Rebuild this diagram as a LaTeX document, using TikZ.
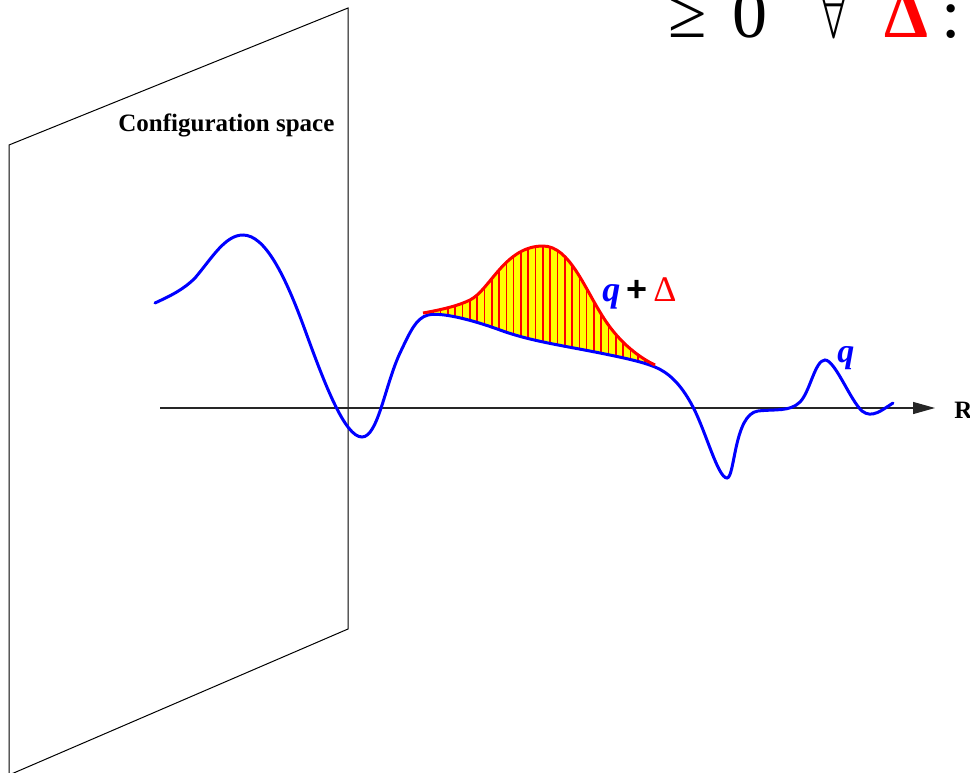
\documentclass[tikz,border=0pt]{standalone}
\usepackage{fontspec}
\usepackage{graphicx}
\setmainfont{Liberation Serif}
\newfontfamily\plusfont{Liberation Sans}
\usetikzlibrary{arrows.meta}
\definecolor{qblue}{HTML}{0000FF}
\definecolor{pert}{HTML}{FF0000}
\definecolor{bump}{HTML}{FFFF00}

\begin{document}
\begin{tikzpicture}[x=.5pt, y=-.5pt,
  plane/.style={draw=black, line width=.5pt, line join=miter},
  axis/.style={draw=black!85, line width=.6pt, -{Triangle[length=11pt, width=6pt]}},
  qcurve/.style={draw=qblue, line width=1.5pt, line cap=round},
  pcurve/.style={draw=pert, line width=1.5pt},
  hatch/.style={draw=pert, line width=.8pt},
  label/.style={inner sep=0pt, anchor=base west},
  bigtext/.style={label, font=\fontsize{35}{40}\selectfont},
  boldtext/.style={label, font=\bfseries\fontsize{12.5}{15}\selectfont}
]
\clip (0,0) rectangle (970,772);
\fill[white] (0,0) rectangle (970,772);

% Configuration space drawn as a slanted plane.
\coordinate (ptl) at (9,145);
\coordinate (ptr) at (348,8);
\coordinate (pbr) at (348,629);
\coordinate (pbl) at (9,775);
\draw[plane] (ptl) -- (ptr) -- (pbr) -- (pbl) -- cycle;
\node[boldtext] (cfgname) at (118,131) {Configuration space};

% The R axis through the plane.
\coordinate (axstart) at (160,408);
\coordinate (axend) at (935,408);
\draw[axis] (axstart) -- (axend);
\node[boldtext] (rname) at (954,418) {R};

% Region between q and q + Delta: yellow with red vertical strokes.
\begin{scope}
  \clip (423,313) .. controls (440,310) and (458,306) .. (470,300)
    .. controls (490,290) and (505,246) .. (543,246)
    .. controls (570,246) and (585,290) .. (605,320)
    .. controls (620,343) and (640,358) .. (655,365)
    -- (655,367)
    .. controls (643,362) and (625,358) .. (600,353)
    .. controls (560,345) and (530,341) .. (500,330)
    .. controls (470,319) and (440,312) .. (428,315) -- cycle;
  \fill[bump] (415,235) rectangle (665,380);
  \foreach \x in {426,433.3,...,656}
    \draw[hatch] (\x,235) -- (\x,380);
\end{scope}

% The configuration q.
\draw[qcurve] (155,303) .. controls (170,296) and (183,290) .. (195,278)
  .. controls (212,258) and (225,235) .. (243,235)
  .. controls (265,235) and (285,275) .. (305,330)
  .. controls (325,385) and (345,437) .. (362,437)
  .. controls (378,437) and (385,385) .. (400,353)
  .. controls (410,332) and (416,318) .. (428,315)
  .. controls (440,312) and (470,319) .. (500,330)
  .. controls (530,341) and (560,345) .. (600,353)
  .. controls (625,358) and (643,362) .. (655,367)
  .. controls (667,372) and (680,382) .. (693,407)
  .. controls (706,432) and (718,478) .. (727,478)
  .. controls (735,478) and (734,414) .. (758,411)
  .. controls (775,409) and (790,412) .. (800,402)
  .. controls (810,392) and (815,360) .. (825,360)
  .. controls (835,360) and (850,400) .. (862,411)
  .. controls (872,419) and (882,410) .. (893,403);

% The perturbed configuration q + Delta.
\draw[pcurve] (423,313) .. controls (440,310) and (458,306) .. (470,300)
  .. controls (490,290) and (505,246) .. (543,246)
  .. controls (570,246) and (585,290) .. (605,320)
  .. controls (620,343) and (640,358) .. (655,365);

\node[label, font=\fontsize{18}{20}\selectfont] (qdelta) at (602,301)
  {\textcolor{qblue}{\textbf{\textit{q}}}\hspace{3pt}{\plusfont\bfseries +}\hspace{3pt}\textcolor{pert}{Δ}};
\node[label, font=\fontsize{17}{19}\selectfont] (qname) at (837,362)
  {\textcolor{qblue}{\textbf{\textit{q}}}};

% Condition at the top, cut by the frame.
\node[bigtext] (cond) at (668,37)
  {≥\hspace{13pt}0\hspace{26pt}\scalebox{1.05}[1.5]{$\forall$}\hspace{18pt}\textcolor{pert}{\textbf{Δ}}\hspace{6.5pt}:};
\end{tikzpicture}
\end{document}
